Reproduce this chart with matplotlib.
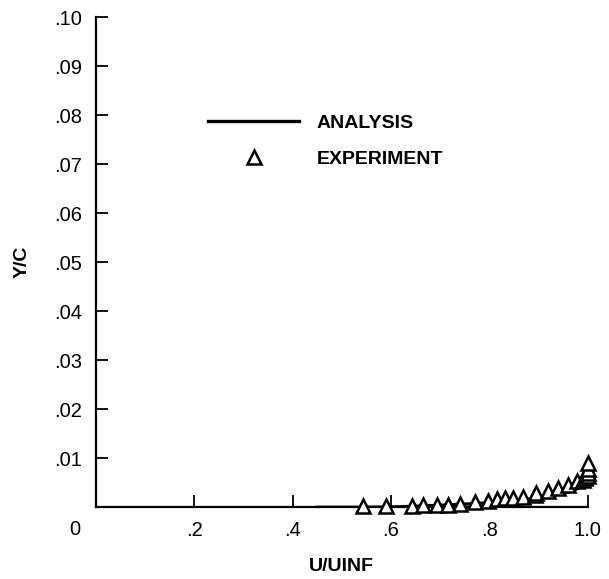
import matplotlib
matplotlib.use("Agg")
import matplotlib.pyplot as plt

# analysis curve (U/UINF, Y/C)
ana_u = [0.45, 0.55, 0.62, 0.70, 0.78, 0.85, 0.90, 0.94, 0.97, 0.99, 1.0, 1.0]
ana_y = [0.0, 0.0, 0.0001, 0.0004, 0.0008, 0.0013, 0.0019, 0.0026, 0.0034, 0.0043, 0.0055, 0.0065]

# experiment points
exp_u = [0.543, 0.591, 0.642, 0.666, 0.693, 0.716, 0.741, 0.771, 0.798, 0.815,
         0.832, 0.848, 0.869, 0.893, 0.896, 0.919, 0.940, 0.960, 0.978, 0.990,
         0.995, 1.0, 1.0, 1.0, 1.0]
exp_y = [0.0002, 0.0002, 0.0002, 0.0004, 0.0004, 0.0005, 0.0007, 0.0011, 0.0013, 0.0016,
         0.0018, 0.0019, 0.0022, 0.0026, 0.0029, 0.0033, 0.0039, 0.0046, 0.0053, 0.0056,
         0.0060, 0.0064, 0.0070, 0.0079, 0.0090]

xticks = [0.2, 0.4, 0.6, 0.8, 1.0]
xticklabels = [".2", ".4", ".6", ".8", "1.0"]
yticks = [0.01, 0.02, 0.03, 0.04, 0.05, 0.06, 0.07, 0.08, 0.09, 0.10]
yticklabels = [".01", ".02", ".03", ".04", ".05", ".06", ".07", ".08", ".09", ".10"]

COND = ["Liberation Sans Narrow", "Liberation Sans", "DejaVu Sans"]
TICKF = ["Liberation Sans", "DejaVu Sans"]

fig = plt.figure(figsize=(6.09, 5.79), dpi=100)
ax = fig.add_axes([96 / 609, 1 - 507.3 / 579, 491.5 / 609, 490 / 579])

ax.plot(ana_u, ana_y, color="black", lw=2.4, label="ANALYSIS", zorder=2)
ax.plot(exp_u, exp_y, ls="none", marker="^", ms=10.5, mfc="white", mec="black",
        mew=1.8, label="EXPERIMENT", zorder=3, clip_on=False)

ax.set_xlim(0, 1.0)
ax.set_ylim(0, 0.10)
ax.set_xticks(xticks)
ax.set_xticklabels(xticklabels, fontfamily=TICKF, fontsize=14.5)
ax.set_yticks(yticks)
ax.set_yticklabels(yticklabels, fontfamily=TICKF, fontsize=14.5)
ax.tick_params(direction="in", length=8.5, width=1.3, color="black")
ax.tick_params(axis="x", pad=10)
ax.tick_params(axis="y", pad=10)
for s in ("top", "right"):
    ax.spines[s].set_visible(False)
for s in ("left", "bottom"):
    ax.spines[s].set_linewidth(1.6)

ax.annotate("0", xy=(0, 0), xycoords="axes fraction", xytext=(-15, -16),
            textcoords="offset points", ha="center", va="center",
            fontfamily=TICKF, fontsize=14.5)

ax.set_xlabel("U/UINF", fontfamily=COND, fontsize=14, fontweight="bold", labelpad=13)
ax.set_ylabel("Y/C", fontfamily=COND, fontsize=14, fontweight="bold", labelpad=17)

leg = ax.legend(loc="upper left", bbox_to_anchor=(0.192, 0.838), frameon=False,
                numpoints=1, handlelength=4.7, handletextpad=0.9, labelspacing=0.95,
                prop={"family": COND, "size": 14, "weight": "bold"})

fig.savefig("out.png", dpi=100)
